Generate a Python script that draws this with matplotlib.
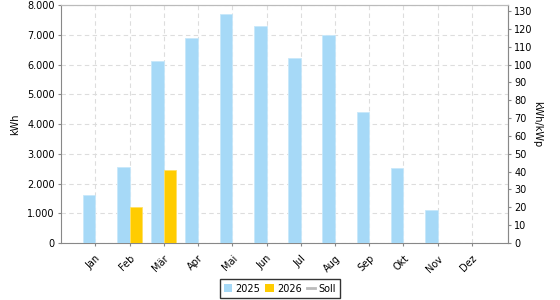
import matplotlib
matplotlib.use("Agg")
import matplotlib.pyplot as plt
from matplotlib.ticker import FuncFormatter, MultipleLocator
from matplotlib.patches import Patch
from matplotlib.lines import Line2D
import numpy as np

months = ["Jan", "Feb", "Mär", "Apr", "Mai", "Jun", "Jul", "Aug", "Sep", "Okt", "Nov", "Dez"]
kwh_2025 = [1620, 2555, 6135, 6900, 7700, 7295, 6230, 7010, 4417, 2520, 1115, 0]
kwh_2026 = [0, 1225, 2465, 0, 0, 0, 0, 0, 0, 0, 0, 0]
kwp = 60.0

c2025 = "#a6d9f7"
c2026 = "#ffcc00"
csoll = "#bbbbbb"
fs = 7

fig = plt.figure(figsize=(5.6, 3.0), dpi=100)
ax = fig.add_axes([0.109, 0.19, 0.798, 0.793])
x = np.arange(len(months))
w = 0.37
ax.bar(x - w, kwh_2025, width=w, align="edge", color=c2025, edgecolor="#c8e8fa", linewidth=0.6, zorder=3)
ax.bar(x, kwh_2026, width=w, align="edge", color=c2026, edgecolor="#ffe066", linewidth=0.6, zorder=3)

ax.set_xlim(-1.0, 12.05)
ax.set_ylim(0, 8000)
ax.yaxis.set_major_locator(MultipleLocator(1000))
ax.yaxis.set_major_formatter(FuncFormatter(lambda v, p: f"{int(v):,}".replace(",", ".")))
ax.set_xticks(x)
ax.set_xticklabels(months, rotation=45, ha="right", rotation_mode="anchor", fontsize=fs)
ax.tick_params(axis="y", labelsize=fs, length=2.5, color="#888888", pad=2)
ax.tick_params(axis="x", length=2.5, color="#888888", pad=5)
ax.grid(True, linestyle=(0, (4, 3)), color="#dddddd", linewidth=0.8, zorder=0)
ax.set_ylabel("kWh", fontsize=fs, labelpad=5)
for s in ["top", "right"]:
    ax.spines[s].set_color("#bbbbbb")
for s in ["left", "bottom"]:
    ax.spines[s].set_color("#888888")

ax2 = ax.twinx()
ax2.set_ylim(0, 8000 / kwp)
ax2.yaxis.set_major_locator(MultipleLocator(10))
ax2.tick_params(axis="y", labelsize=fs, length=2.5, color="#888888", pad=2)
ax2.set_ylabel("kWh/kWp", fontsize=fs, rotation=270, labelpad=7)
ax2.spines["right"].set_color("#888888")
ax2.spines["top"].set_color("#bbbbbb")
ax2.spines["left"].set_visible(False)
ax2.spines["bottom"].set_visible(False)

handles = [Patch(facecolor=c2025, edgecolor="none"), Patch(facecolor=c2026, edgecolor="none"),
           Line2D([0], [0], color=csoll, linewidth=2)]
leg = fig.legend(handles, ["2025", "2026", "Soll"], loc="center",
                 bbox_to_anchor=(0.5, 1 - 288.5 / 300), bbox_transform=fig.transFigure,
                 ncol=3, fontsize=fs, frameon=True, fancybox=False, handlelength=0.85, handleheight=0.85,
                 handletextpad=0.35, columnspacing=0.5, borderpad=0.45, borderaxespad=0)
leg.get_frame().set_edgecolor("black")
leg.get_frame().set_linewidth(1.0)

fig.savefig("out.png", dpi=100)
